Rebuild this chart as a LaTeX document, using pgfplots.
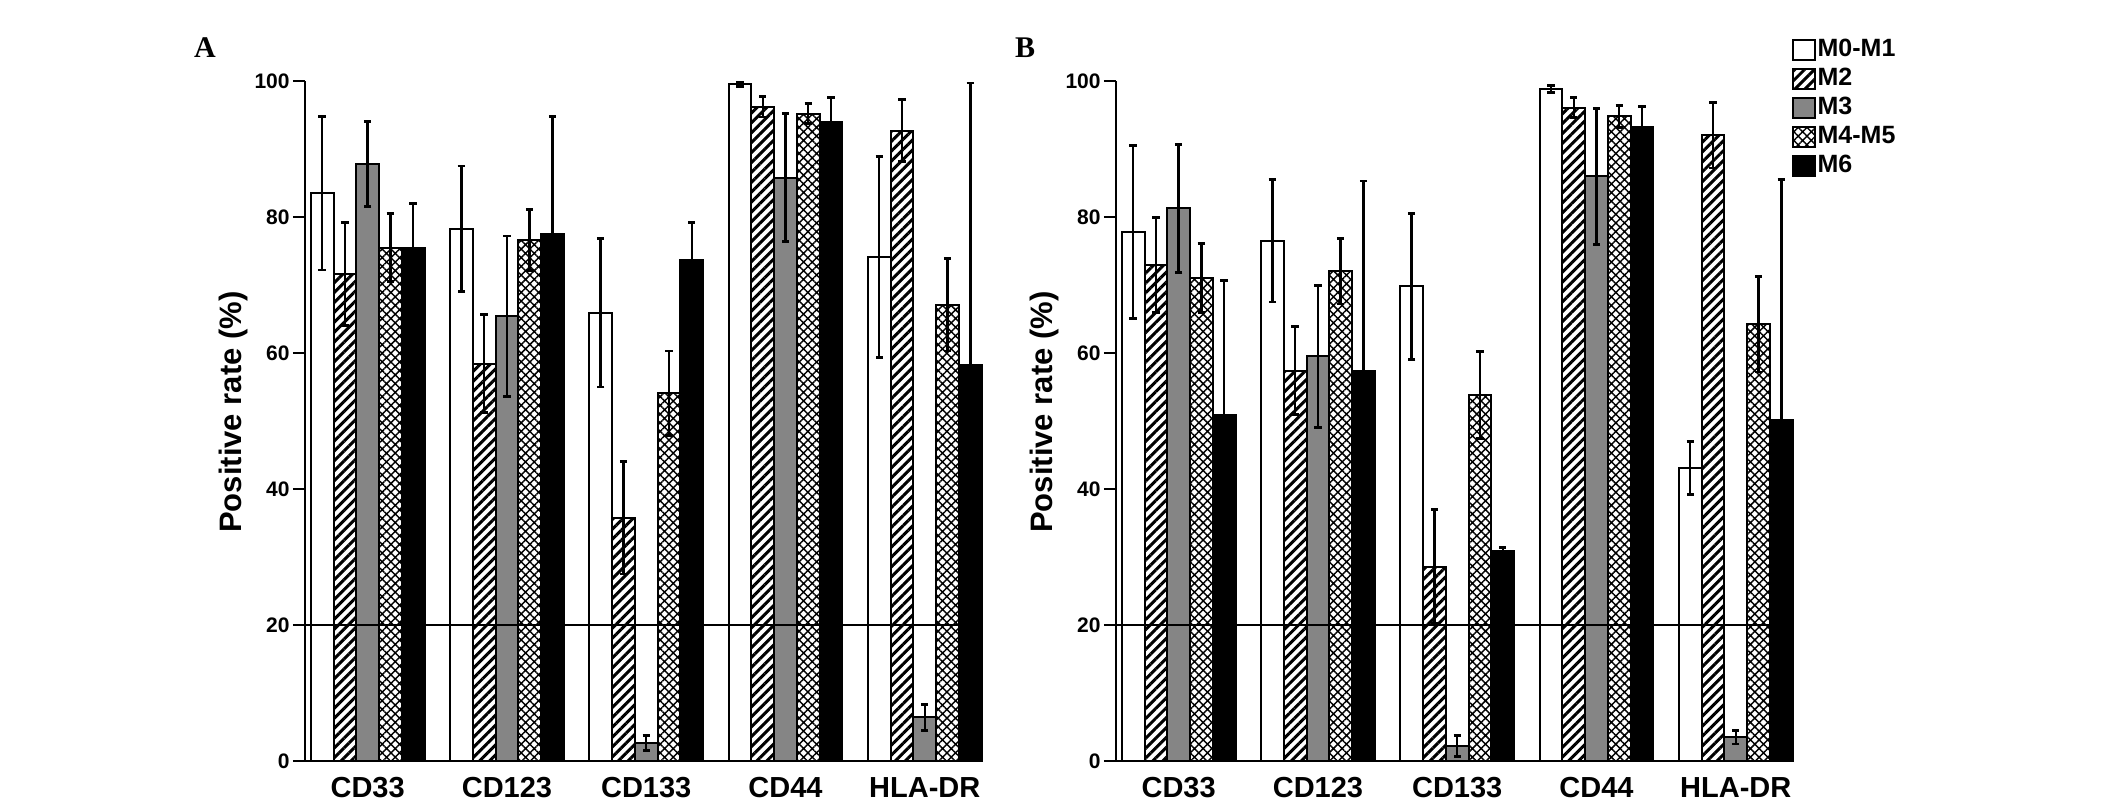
\documentclass[border=0pt]{standalone}
\usepackage{fontspec}
\setmainfont{Liberation Sans}
\newfontfamily\serifb{Liberation Serif}
\usepackage{pgfplots}
\usepackage{pgfplotstable}
\pgfplotsset{compat=1.18}
\usetikzlibrary{patterns.meta}

% x  m01 e01  m2 e2  m3 e3  m45 e45  m6 e6
\pgfplotstableread{
x m01 e01 m2 e2 m3 e3 m45 e45 m6 e6
0 83.5 11.3 71.6 7.6 87.8 6.3 75.5 5.0 75.4 6.6
1 78.3 9.2 58.4 7.2 65.4 11.8 76.6 4.5 77.5 17.3
2 65.9 10.9 35.8 8.3 2.7 1.1 54.1 6.2 73.7 5.5
3 99.5 0.3 96.2 1.5 85.8 9.4 95.2 1.5 93.9 3.7
4 74.1 14.8 92.7 4.6 6.4 1.9 67.1 6.8 58.3 41.4
}\dataA
\pgfplotstableread{
x m01 e01 m2 e2 m3 e3 m45 e45 m6 e6
0 77.8 12.7 72.9 7.0 81.3 9.4 71.0 5.1 50.9 19.8
1 76.5 9.0 57.4 6.5 59.5 10.4 72.0 4.8 57.3 28.0
2 69.8 10.7 28.6 8.4 2.2 1.5 53.8 6.4 30.9 0.5
3 98.8 0.5 96.1 1.5 86.0 10.0 94.8 1.6 93.3 3.0
4 43.1 3.9 92.0 4.8 3.5 1.0 64.2 7.0 50.2 35.3
}\dataB

\pgfplotsset{
  eb/.style={error bars/.cd, y dir=both, y explicit,
    error bar style={line width=0.85pt, black},
    error mark options={rotate=90, mark size=1.3pt, line width=1pt, black}},
  sM01/.style={draw=black, fill=white, line width=0.7pt},
  sM2/.style={draw=black, line width=0.7pt, pattern={Lines[angle=45,distance=2.45pt,line width=1.05pt]}},
  sM3/.style={draw=black, fill=black!48, line width=0.7pt},
  sM45/.style={draw=black, line width=0.7pt, pattern={Hatch[angle=45,distance=2.15pt,line width=0.5pt]}},
  sM6/.style={draw=black, fill=black, line width=0.7pt},
  panel/.style={
    scale only axis,
    width=237.4pt, height=238pt,
    anchor=south west,
    ybar, bar width=0.1634,
    xmin=-0.45, xmax=4.42, ymin=0, ymax=100,
    enlargelimits=false, clip=false,
    axis x line*=bottom, axis y line*=left,
    axis line style={line width=0.7pt},
    tick align=outside, major tick length=4.2pt,
    ytick={0,20,...,100},
    ytick style={line width=0.7pt, black},
    xtick={0,1,2,3,4},
    xticklabels={CD33,CD123,CD133,CD44,HLA-DR},
    xtick style={draw=none},
    /pgf/number format/assume math mode=true,
    yticklabel style={font=\fontsize{7.35}{8}\selectfont\bfseries, inner sep=1pt},
    xticklabel style={font=\fontsize{10.15}{11}\selectfont\bfseries, yshift=2pt},
    ylabel={Positive rate (\%)},
    every axis y label/.style={at={(axis description cs:-0.1061,0.513)}, rotate=90, anchor=center,
      font=\fontsize{10.85}{12}\selectfont\bfseries},
    legend image code/.code={\draw[##1, line width=0.7pt] (0pt,-3.5pt) rectangle (7.7pt,3.5pt);},
  },
}

\begin{document}
\begin{tikzpicture}[x=0.35pt,y=0.35pt]
\path[use as bounding box] (0,0) rectangle (2126,805);

\begin{axis}[panel, at={(106.75pt,15.4pt)}]
\addplot[sM01, bar shift=-0.3268, eb] table[x=x,y=m01,y error=e01] {\dataA};
\addplot[sM2, bar shift=-0.1634, eb] table[x=x,y=m2,y error=e2] {\dataA};
\addplot[sM3, bar shift=0, eb] table[x=x,y=m3,y error=e3] {\dataA};
\addplot[sM45, bar shift=0.1634, eb] table[x=x,y=m45,y error=e45] {\dataA};
\addplot[sM6, bar shift=0.3268, eb] table[x=x,y=m6,y error=e6] {\dataA};
\addplot[sharp plot, black, line width=0.7pt, mark=none, forget plot] coordinates {(-0.45,20) (4.42,20)};
\end{axis}

\begin{axis}[panel, at={(390.6pt,15.4pt)},
  legend style={at={(axis description cs:0.9965,1.064)}, anchor=north west,
    draw=none, fill=none, inner sep=0pt, outer sep=0pt,
    font=\fontsize{8.75}{10}\selectfont\bfseries,
    row sep=1.35pt, column sep=0pt,
    nodes={inner sep=0.6pt}},
  legend cell align=left]
\addplot[sM01, bar shift=-0.3268, eb] table[x=x,y=m01,y error=e01] {\dataB};
\addplot[sM2, bar shift=-0.1634, eb] table[x=x,y=m2,y error=e2] {\dataB};
\addplot[sM3, bar shift=0, eb] table[x=x,y=m3,y error=e3] {\dataB};
\addplot[sM45, bar shift=0.1634, eb] table[x=x,y=m45,y error=e45] {\dataB};
\addplot[sM6, bar shift=0.3268, eb] table[x=x,y=m6,y error=e6] {\dataB};
\addplot[sharp plot, black, line width=0.7pt, mark=none, forget plot] coordinates {(-0.45,20) (4.42,20)};
\legend{M0-M1,M2,M3,M4-M5,M6}
\end{axis}

\node[font=\serifb\fontsize{10.5}{12}\selectfont\bfseries] at (205,757) {A};
\node[font=\serifb\fontsize{10.5}{12}\selectfont\bfseries] at (1025,757) {B};
\end{tikzpicture}
\end{document}
